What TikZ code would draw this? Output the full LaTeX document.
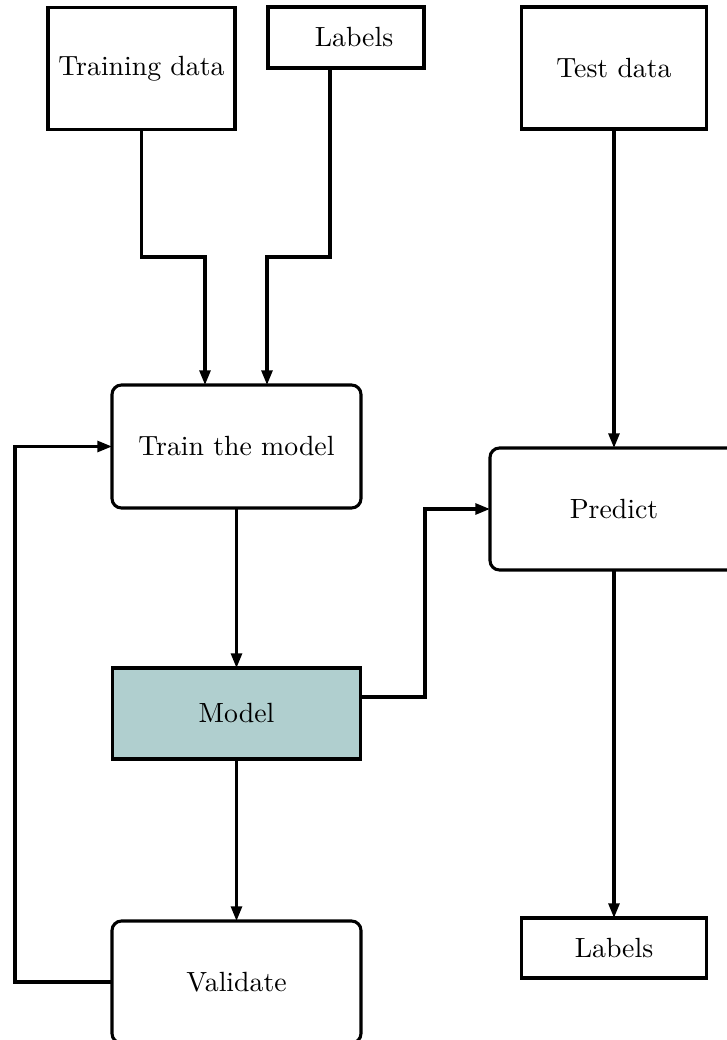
\documentclass[tikz,border=0pt]{standalone}
\usetikzlibrary{arrows.meta}
\newlength\pxu
\setlength\pxu{0.369pt}
\definecolor{modelfill}{RGB}{176,207,207}
\tikzset{
  box/.style={draw=black, line width=1.15pt, inner sep=0pt, outer sep=0pt, font=\fontsize{10.25}{12}\selectfont},
  rbox/.style={box, rounded corners=3.5pt},
  conn/.style={line width=1.15pt},
  arr/.style={conn, -{Triangle[length=5.4pt,width=4pt]}},
}
\begin{document}
\begin{tikzpicture}[x=\pxu, y=-\pxu]
\useasboundingbox (0,0) rectangle (727,1040);
\clip (0,0) rectangle (727,1040);
\node[box, minimum width=187\pxu, minimum height=122\pxu] (td) at (141.5,68.5) {Training data};
\node[box, minimum width=156\pxu, minimum height=61\pxu] (lt) at (346,37.5) {\hspace*{16\pxu}Labels};
\node[box, minimum width=185\pxu, minimum height=122\pxu] (ts) at (614,68) {Test data};
\node[rbox, minimum width=249\pxu, minimum height=123\pxu] (train) at (236.5,446.5) {Train the model};
\node[rbox, minimum width=248\pxu, minimum height=122\pxu] (pred) at (614,509) {Predict};
\node[box, fill=modelfill, minimum width=248\pxu, minimum height=91\pxu] (model) at (236.5,713.5) {Model};
\node[rbox, minimum width=249\pxu, minimum height=122\pxu] (val) at (236.5,982) {Validate};
\node[box, minimum width=185\pxu, minimum height=60\pxu] (lb) at (614,948) {Labels};
\coordinate (j1) at (205,257);
\coordinate (j2) at (267,257);
\coordinate (jb) at (330,257);
\coordinate (loopx) at (15,981);
\coordinate (mx) at (425,697);
\draw[arr] (td.south) |- (j1) -- (j1 |- train.north);
\draw[arr] (lt.south -| jb) -- (jb) -- (j2) -- (j2 |- train.north);
\draw[arr] (ts.south) -- (pred.north);
\draw[arr] (train.south) -- (model.north);
\draw[arr] (model.south) -- (val.north);
\draw[arr] (pred.south) -- (lb.north);
\draw[arr] (model.east |- mx) -- (mx) |- (pred.west);
\draw[arr] (val.west) -- (val.west -| loopx) |- (train.west);
\end{tikzpicture}
\end{document}
